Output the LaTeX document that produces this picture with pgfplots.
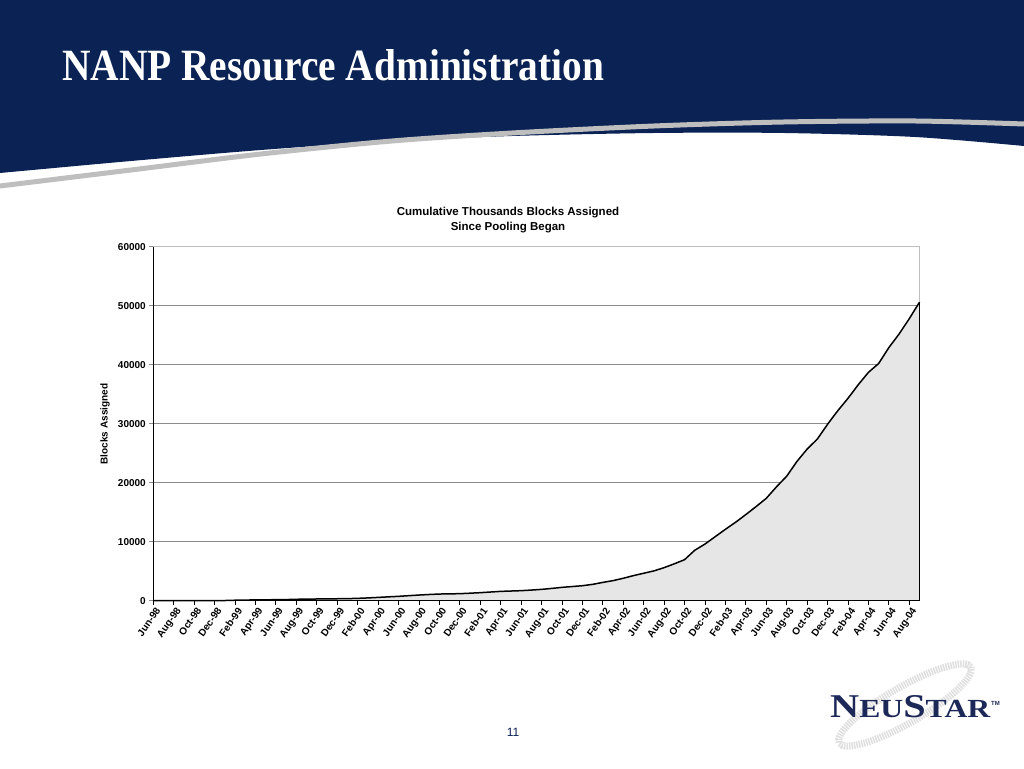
\documentclass[border=0pt]{standalone}
\usepackage{fontspec}
\setmainfont{Liberation Serif}
\setsansfont{Liberation Sans}
\usepackage{pgfplots}
\pgfplotsset{compat=1.18}
\usepackage{pgfplotstable}
\definecolor{navy}{RGB}{10,34,84}
\definecolor{logonavy}{RGB}{28,40,88}
\definecolor{areafill}{RGB}{230,230,230}
\definecolor{gridgray}{RGB}{140,140,140}
\definecolor{framegray}{RGB}{190,190,190}

\pgfplotstableread{
i v
0 0
1 0
2 0
3 0
4 0
5 0
6 0
7 30
8 80
9 110
10 130
11 150
12 170
13 190
14 240
15 270
16 290
17 310
18 330
19 350
20 400
21 470
22 560
23 650
24 740
25 850
26 960
27 1050
28 1130
29 1160
30 1190
31 1270
32 1360
33 1470
34 1580
35 1640
36 1700
37 1800
38 1920
39 2080
40 2260
41 2400
42 2540
43 2770
44 3100
45 3400
46 3800
47 4250
48 4650
49 5050
50 5600
51 6250
52 6950
53 8550
54 9600
55 10850
56 12100
57 13300
58 14600
59 15950
60 17350
61 19300
62 21100
63 23600
64 25700
65 27400
66 29900
67 32200
68 34300
69 36600
70 38700
71 40200
72 42900
73 45200
74 47800
75 50600
}\datatable

\begin{document}
\begin{tikzpicture}[x=1pt,y=1pt]
\path[use as bounding box] (0,0) rectangle (1024,768);
\fill[white] (0,0) rectangle (1024,768);
% header
\fill[navy] (0,768) -- (1024,768) -- plot[smooth] coordinates {(1024,622) (915,631) (784,635) (654,635) (512,632) (392,627) (261,618) (131,607) (0,595)} -- cycle;
\draw[line width=5pt, framegray] plot[smooth] coordinates {(0,582) (131,598) (261,614) (392,627) (512,635) (654,642) (784,646) (915,647) (1024,644)};
\node[anchor=base west, inner sep=0pt, text=white] at (62,687) {\resizebox{542pt}{31pt}{\bfseries NANP Resource Administration}};

% chart
\begin{axis}[
  at={(153.3pt,167.3pt)}, anchor=south west,
  scale only axis, width=766.2pt, height=354pt,
  xmin=0, xmax=75, ymin=0, ymax=60000,
  clip=false,
  axis line style={framegray, line width=0.8pt},
  ymajorgrids, grid style={gridgray, line width=1.2pt},
  xtick={0,2,...,74},
  xticklabels={Jun-98,Aug-98,Oct-98,Dec-98,Feb-99,Apr-99,Jun-99,Aug-99,Oct-99,Dec-99,Feb-00,Apr-00,Jun-00,Aug-00,Oct-00,Dec-00,Feb-01,Apr-01,Jun-01,Aug-01,Oct-01,Dec-01,Feb-02,Apr-02,Jun-02,Aug-02,Oct-02,Dec-02,Feb-03,Apr-03,Jun-03,Aug-03,Oct-03,Dec-03,Feb-04,Apr-04,Jun-04,Aug-04},
  x tick label style={rotate=55, anchor=north east, inner sep=0.5pt, yshift=-2pt, font=\sffamily\bfseries\fontsize{10}{10}\selectfont},
  ytick={0,10000,...,60000},
  scaled y ticks=false,
  y tick label style={font=\sffamily\bfseries\fontsize{10}{10}\selectfont, /pgf/number format/.cd, fixed, set thousands separator={}, assume math mode=true},
  tick align=outside, major tick length=4pt,
  x tick style={black, line width=0.8pt},
  y tick style={gridgray, line width=0.8pt},
  xtick pos=bottom, ytick pos=left,
]
\addplot[fill=areafill, draw=none] table[x=i, y=v] {\datatable} \closedcycle;
\addplot[black, line width=1.5pt] table[x=i, y=v] {\datatable};
\addplot[black, line width=1.8pt] coordinates {(75,0) (75,50600)};
\draw[black, line width=1pt] (rel axis cs:0,1) -- (rel axis cs:0,0) -- (rel axis cs:1,0);
\end{axis}

\node[font=\sffamily\bfseries\fontsize{11.5}{15}\selectfont, align=center] at (508,547.5) {Cumulative Thousands Blocks Assigned\\Since Pooling Began};
\node[rotate=90, font=\sffamily\bfseries\fontsize{10}{10}\selectfont] at (105,344) {Blocks Assigned};

\node[font=\sffamily\fontsize{12}{12}\selectfont, text=navy] at (513,36) {11};

% logo
\draw[line width=7pt, gray!25, dash pattern=on 1.5pt off 1pt, rotate around={30:(905,63)}] (905,63) ellipse (76pt and 18pt);
\node[anchor=base west, inner sep=0pt, text=logonavy] at (830,51) {\resizebox{160pt}{22pt}{\bfseries\fontsize{28}{28}\selectfont N\fontsize{22}{22}\selectfont EU\fontsize{28}{28}\selectfont S\fontsize{22}{22}\selectfont TAR}};
\node[anchor=base west, inner sep=0pt, text=logonavy, font=\sffamily\bfseries\fontsize{6}{6}\selectfont] at (991,63) {TM};
\end{tikzpicture}
\end{document}
